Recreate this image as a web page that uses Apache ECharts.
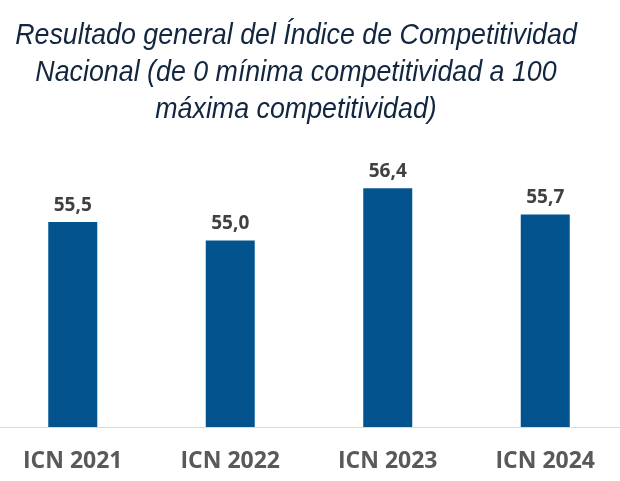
<!DOCTYPE html>
<html>
<head>
<meta charset="utf-8">
<script src="https://cdn.jsdelivr.net/npm/echarts@6/dist/echarts.min.js"></script>
<style>
html,body{margin:0;padding:0;background:#fff;overflow:hidden;width:620px;height:481px;}
#chart{width:630px;height:481px;margin-left:-6px;}
</style>
</head>
<body>
<div id="chart"></div>
<script>
const titleLines = [
  "Resultado general del Índice de Competitividad",
  "Nacional (de 0 mínima competitividad a 100",
  "máxima competitividad)"
];
const categories = ["ICN 2021", "ICN 2022", "ICN 2023", "ICN 2024"];
const values = [55.5, 55.0, 56.4, 55.7];
const yMin = 50;
const yMax = 57;

const chart = echarts.init(document.getElementById('chart'));
chart.setOption({
  animation: false,
  backgroundColor: '#ffffff',
  graphic: [{
    type: 'text',
    x: 302,
    y: 18,
    scaleY: 1.07,
    style: {
      text: titleLines.join('\n'),
      font: 'italic 26.8px "Liberation Sans", Arial, sans-serif',
      textAlign: 'center',
      textVerticalAlign: 'top',
      lineHeight: 34.5,
      fill: '#13263f'
    }
  }],
  grid: { left: 0, right: 0, top: 166, bottom: 54, containLabel: false },
  xAxis: {
    type: 'category',
    data: categories,
    axisLine: { show: true, lineStyle: { color: '#d9d9d9', width: 1 } },
    axisTick: { show: false },
    axisLabel: {
      margin: 23,
      color: '#595959',
      fontFamily: '"Open Sans", sans-serif',
      fontWeight: 'bold',
      fontSize: 23
    }
  },
  yAxis: {
    type: 'value',
    min: yMin,
    max: yMax,
    show: false,
    splitLine: { show: false }
  },
  series: [{
    type: 'bar',
    data: values,
    barWidth: 49,
    itemStyle: { color: '#03548e' },
    label: {
      show: true,
      position: 'top',
      distance: 7,
      color: '#404040',
      fontFamily: '"Open Sans", sans-serif',
      fontWeight: 'bold',
      fontSize: 19,
      formatter: p => p.value.toFixed(1).replace('.', ',')
    }
  }]
});
</script>
</body>
</html>
